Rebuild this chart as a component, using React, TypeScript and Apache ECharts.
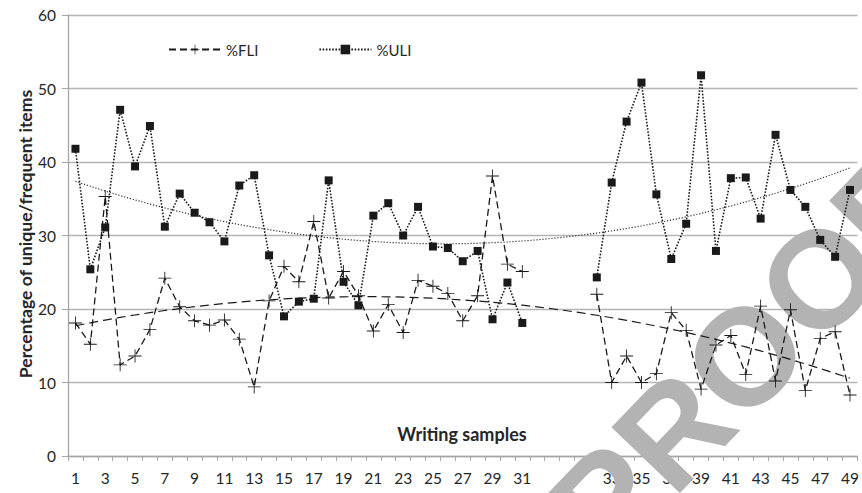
import React, { useEffect, useRef } from "react";
import * as echarts from "echarts";

// x categories: samples 1–31, four empty slots, then samples 32–49
const sampleLabels: string[] = [
  "1", "2", "3", "4", "5", "6", "7", "8", "9", "10",
  "11", "12", "13", "14", "15", "16", "17", "18", "19", "20",
  "21", "22", "23", "24", "25", "26", "27", "28", "29", "30", "31",
  "", "", "", "",
  "32", "33", "34", "35", "36", "37", "38", "39", "40",
  "41", "42", "43", "44", "45", "46", "47", "48", "49",
];

const fliValues: (number | null)[] = [
  18.1, 15.2, 35.3, 12.4, 13.6, 17.2, 24.2, 20.3, 18.4, 17.8,
  18.5, 15.9, 9.4, 21.1, 25.8, 23.7, 31.9, 21.5, 25.1, 21.8,
  17.0, 20.6, 16.8, 23.9, 23.1, 22.1, 18.4, 21.8, 38.1, 26.1, 25.1,
  null, null, null, null,
  22.0, 10.0, 13.6, 10.0, 11.2, 19.5, 17.1, 9.1, 15.1,
  16.4, 11.1, 20.4, 10.2, 19.9, 8.9, 16.0, 16.9, 8.3,
];

const uliValues: (number | null)[] = [
  41.8, 25.4, 31.1, 47.1, 39.4, 44.9, 31.2, 35.7, 33.1, 31.8,
  29.2, 36.8, 38.2, 27.3, 19.0, 21.0, 21.4, 37.5, 23.7, 20.5,
  32.7, 34.4, 30.0, 33.9, 28.5, 28.3, 26.5, 27.9, 18.6, 23.6, 18.1,
  null, null, null, null,
  24.3, 37.2, 45.5, 50.8, 35.6, 26.8, 31.6, 51.8, 27.9,
  37.8, 37.9, 32.3, 43.7, 36.2, 33.9, 29.4, 27.1, 36.2,
];

const yMin = 0;
const yMax = 60;
const yInterval = 10;

const seriesNames = ["%FLI", "%ULI"];

// 2nd-order polynomial trendline (least squares on category position)
function quadFit(vals: (number | null)[]): number[] {
  let s0 = 0, s1 = 0, s2 = 0, s3 = 0, s4 = 0, t0 = 0, t1 = 0, t2 = 0;
  vals.forEach((v, i) => {
    if (v === null) return;
    const x = i + 1;
    s0 += 1; s1 += x; s2 += x * x; s3 += x * x * x; s4 += x * x * x * x;
    t0 += v; t1 += v * x; t2 += v * x * x;
  });
  const M = [
    [s4, s3, s2, t2],
    [s3, s2, s1, t1],
    [s2, s1, s0, t0],
  ];
  for (let c = 0; c < 3; c++) {
    for (let r = c + 1; r < 3; r++) {
      const f = M[r][c] / M[c][c];
      for (let k = c; k < 4; k++) M[r][k] -= f * M[c][k];
    }
  }
  const sol = [0, 0, 0];
  for (let r = 2; r >= 0; r--) {
    let s = M[r][3];
    for (let k = r + 1; k < 3; k++) s -= M[r][k] * sol[k];
    sol[r] = s / M[r][r];
  }
  const [a, b, c] = sol;
  return vals.map((_, i) => {
    const x = i + 1;
    return a * x * x + b * x + c;
  });
}

const FONT = "Lato, 'Open Sans', sans-serif";
const INK = "#1a1a1a";
const crossPath = "path://M0,11.2H24V12.8H0ZM11.2,0H12.8V24H11.2Z";

export default function App() {
  const ref = useRef<HTMLDivElement>(null);

  useEffect(() => {
    if (!ref.current) return;
    const chart = echarts.init(ref.current, undefined, { renderer: "svg" });
    const fliTrend = quadFit(fliValues);
    const uliTrend = quadFit(uliValues);

    chart.setOption({
      animation: false,
      backgroundColor: "#ffffff",
      grid: { left: 68, right: 4, top: 15, bottom: 37, containLabel: false },
      legend: {
        data: seriesNames,
        left: 163,
        top: 37,
        itemWidth: 52,
        itemHeight: 12,
        itemGap: 60,
        textStyle: { fontFamily: FONT, fontSize: 15, color: "#262626" },
      },
      xAxis: {
        type: "category",
        data: sampleLabels,
        boundaryGap: true,
        axisLine: { show: true, lineStyle: { color: "#a6a6a6", width: 1.3 } },
        axisTick: { show: true, interval: 0, length: 5, lineStyle: { color: "#a6a6a6" } },
        axisLabel: {
          interval: 1,
          margin: 14,
          fontFamily: FONT,
          fontSize: 15.5,
          color: "#262626",
        },
        splitLine: { show: false },
      },
      yAxis: {
        type: "value",
        min: yMin,
        max: yMax,
        interval: yInterval,
        axisLine: { show: true, lineStyle: { color: "#a6a6a6", width: 1.3 } },
        axisTick: { show: true, length: 6, lineStyle: { color: "#a6a6a6" } },
        axisLabel: { margin: 12, fontFamily: FONT, fontSize: 15.5, color: "#262626" },
        splitLine: { show: true, lineStyle: { color: "#b5b5b5", width: 1.3 } },
      },
      graphic: [
        {
          type: "text",
          z: 1,
          x: 745,
          y: 356,
          rotation: Math.PI / 4 + 0.02,
          silent: true,
          style: {
            text: "PROOF",
            fill: "#b3b3b3",
            font: "bold 138px 'Liberation Sans', Arial, sans-serif",
            align: "center",
            verticalAlign: "middle",
          },
        },
        {
          type: "text",
          z: 5,
          x: 462,
          y: 434,
          style: {
            text: "Writing samples",
            fill: "#262626",
            font: `bold 18px ${FONT}`,
            align: "center",
            verticalAlign: "middle",
          },
        },
        {
          type: "text",
          z: 5,
          x: 25,
          y: 234,
          rotation: Math.PI / 2,
          style: {
            text: "Percentage of unique/frequent items",
            fill: "#262626",
            font: `bold 17.6px ${FONT}`,
            align: "center",
            verticalAlign: "middle",
          },
        },
      ],
      series: [
        {
          name: "%FLI",
          type: "line",
          z: 3,
          data: fliValues,
          connectNulls: false,
          symbol: crossPath,
          symbolSize: 13,
          showAllSymbol: true,
          itemStyle: { color: INK },
          lineStyle: { color: INK, width: 1.3, type: [7, 4] },
        },
        {
          name: "%ULI",
          type: "line",
          z: 3,
          data: uliValues,
          connectNulls: false,
          symbol: "rect",
          symbolSize: 8,
          showAllSymbol: true,
          itemStyle: { color: INK },
          lineStyle: { color: INK, width: 1.6, type: [1.6, 1.6] },
        },
        {
          name: "FLI trend",
          type: "line",
          z: 2,
          data: fliTrend,
          symbol: "none",
          silent: true,
          lineStyle: { color: INK, width: 1.2, type: [9, 5] },
        },
        {
          name: "ULI trend",
          type: "line",
          z: 2,
          data: uliTrend,
          symbol: "none",
          silent: true,
          lineStyle: { color: "#333333", width: 1.2, type: [1.2, 1.8] },
        },
      ],
    });

    return () => chart.dispose();
  }, []);

  return (
    <div
      ref={ref}
      style={{ position: "fixed", left: 0, top: 0, width: 862, height: 493 }}
    />
  );
}
